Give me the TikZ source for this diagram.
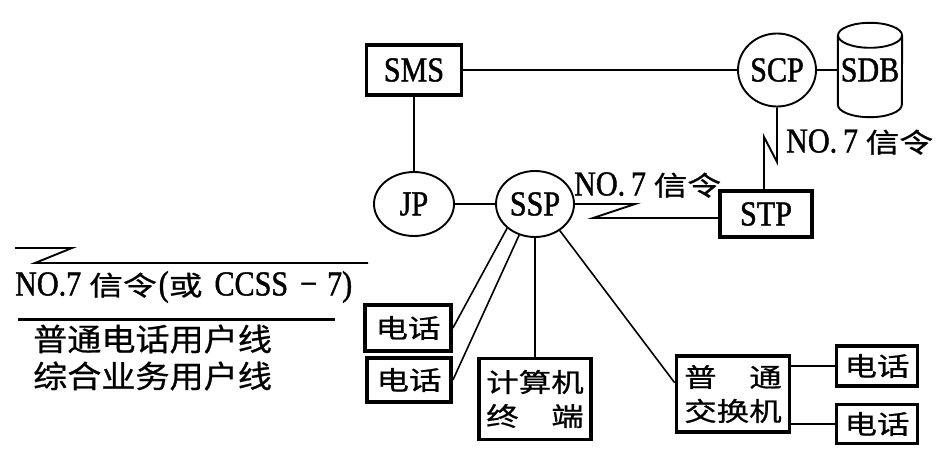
\documentclass[tikz,border=0pt]{standalone}
\usepackage{fontspec}
\setmainfont{Liberation Serif}[FakeStretch=0.86,FakeBold=1.2]
\newfontfamily\cjk{Noto Sans CJK SC}[FakeStretch=1.25,FakeBold=0.8]
\newfontfamily\cjkl{Noto Sans CJK SC}[FakeStretch=1.1,FakeBold=0.8]
\usetikzlibrary{shapes.geometric,calc}
\newcommand{\zh}[1]{{\fontsize{27}{27}\selectfont\cjk #1}}
\begin{document}
\begin{tikzpicture}[x=1pt,y=-1pt,
  box/.style={draw, line width=3.8pt, rectangle, inner sep=0pt, align=center},
  circ/.style={draw, ellipse, line width=1.9pt, inner sep=0pt},
  conn/.style={line width=1.6pt},
  sig/.style={line width=1.9pt},
  lat/.style={font=\fontsize{35}{35}\selectfont},
  cj/.style={font=\fontsize{26}{34}\selectfont\cjk},
  cjl/.style={font=\fontsize{31}{31}\selectfont\cjkl}
]
\useasboundingbox (0,0) rectangle (944,460);
% nodes
\node[box,lat,minimum width=95pt,minimum height=50pt] (sms) at (414,70) {SMS};
\node[circ,lat,minimum width=78pt,minimum height=73pt] (scp) at (777,70) {SCP};
\node[inner sep=0pt,minimum width=64pt,minimum height=94pt,lat] (sdb) at (870,70) {\raisebox{-7pt}{SDB}};
\node[circ,lat,minimum width=80pt,minimum height=64pt] (jp) at (414,204) {JP};
\node[circ,lat,minimum width=78pt,minimum height=66pt] (ssp) at (535,204) {SSP};
\node[box,lat,minimum width=92pt,minimum height=46pt] (stp) at (766,214) {STP};
\node[box,cj,minimum width=86pt,minimum height=46pt] (tel1) at (408,328) {电话};
\node[box,cj,minimum width=84pt,minimum height=44pt] (tel2) at (409,380) {电话};
\node[box,cj,minimum width=112pt,minimum height=81pt] (comp) at (535,399) {计算机\\终\phantom{算}端};
\node[box,cj,minimum width=113pt,minimum height=76pt] (pbx) at (733,394) {普\phantom{换}通\\交换机};
\node[box,cj,minimum width=81pt,minimum height=40pt] (tel3) at (877,366) {电话};
\node[box,cj,minimum width=81pt,minimum height=39pt] (tel4) at (877,424) {电话};
% cylinder for SDB
\draw[line width=1.9pt] ($(sdb.north)+(0,12.5)$) ellipse [x radius=32pt, y radius=12.5pt];
\draw[line width=1.9pt] ($(sdb.north west)+(0,12.5)$) -- ($(sdb.south west)+(0,-12.5)$)
  arc[start angle=180, end angle=360, x radius=32pt, y radius=12.5pt]
  -- ($(sdb.north east)+(0,12.5)$);
% signalling labels
\node[lat,anchor=west,inner sep=0pt] (lab1) at (786,142) {NO.\,7 \zh{信令}};
\node[lat,anchor=west,inner sep=0pt] (lab2) at (574,185) {NO.\,7 \zh{信令}};
% connectors
\coordinate (z1) at (777,162);
\coordinate (z2) at (764,137);
\coordinate (l1) at (635,204);
\coordinate (l2) at (593,218);
\draw[conn] (sms.east) -- (scp.west);
\draw[conn] (scp.east) -- (sdb.west);
\draw[conn] (sms.south) -- (jp.north);
\draw[conn] (jp.east) -- (ssp.west);
\draw[sig] (scp.south) -- (z1) -- (z2) -- (z2 |- stp.north);
\draw[sig] (ssp.east) -- (l1) -- (l2) -- (l2 -| stp.west);
\draw[conn] (ssp.221) -- (tel1.east);
\draw[conn] (ssp.243) -- (tel2.east);
\draw[conn] (ssp.south) -- (comp.north);
\draw[conn] (ssp.-47) -- (pbx.169);
\draw[conn] (tel3.west -| pbx.east) -- (tel3.west);
\draw[conn] (tel4.west -| pbx.east) -- (tel4.west);
% legend
\coordinate (la) at (15,248);
\coordinate (lb) at (72,248);
\coordinate (lc) at (35,263);
\coordinate (ld) at (368,263);
\draw[sig] (la) -- (lb) -- (lc) -- (ld);
\node[lat,anchor=west,inner sep=0pt] (lg1) at (15,287) {NO.7\hspace{8pt}\zh{信令}\hspace{2pt}(\zh{或}\hspace{12pt}CCSS\hspace{12pt}−\hspace{10pt}7)};
\coordinate (le) at (18,319);
\coordinate (lf) at (335,319);
\draw[line width=3pt] (le) -- (lf);
\node[cjl,anchor=west,inner sep=0pt] (lg2) at (33,339) {普通电话用户线};
\node[cjl,anchor=west,inner sep=0pt] (lg3) at (33,376) {综合业务用户线};
\end{tikzpicture}
\end{document}
